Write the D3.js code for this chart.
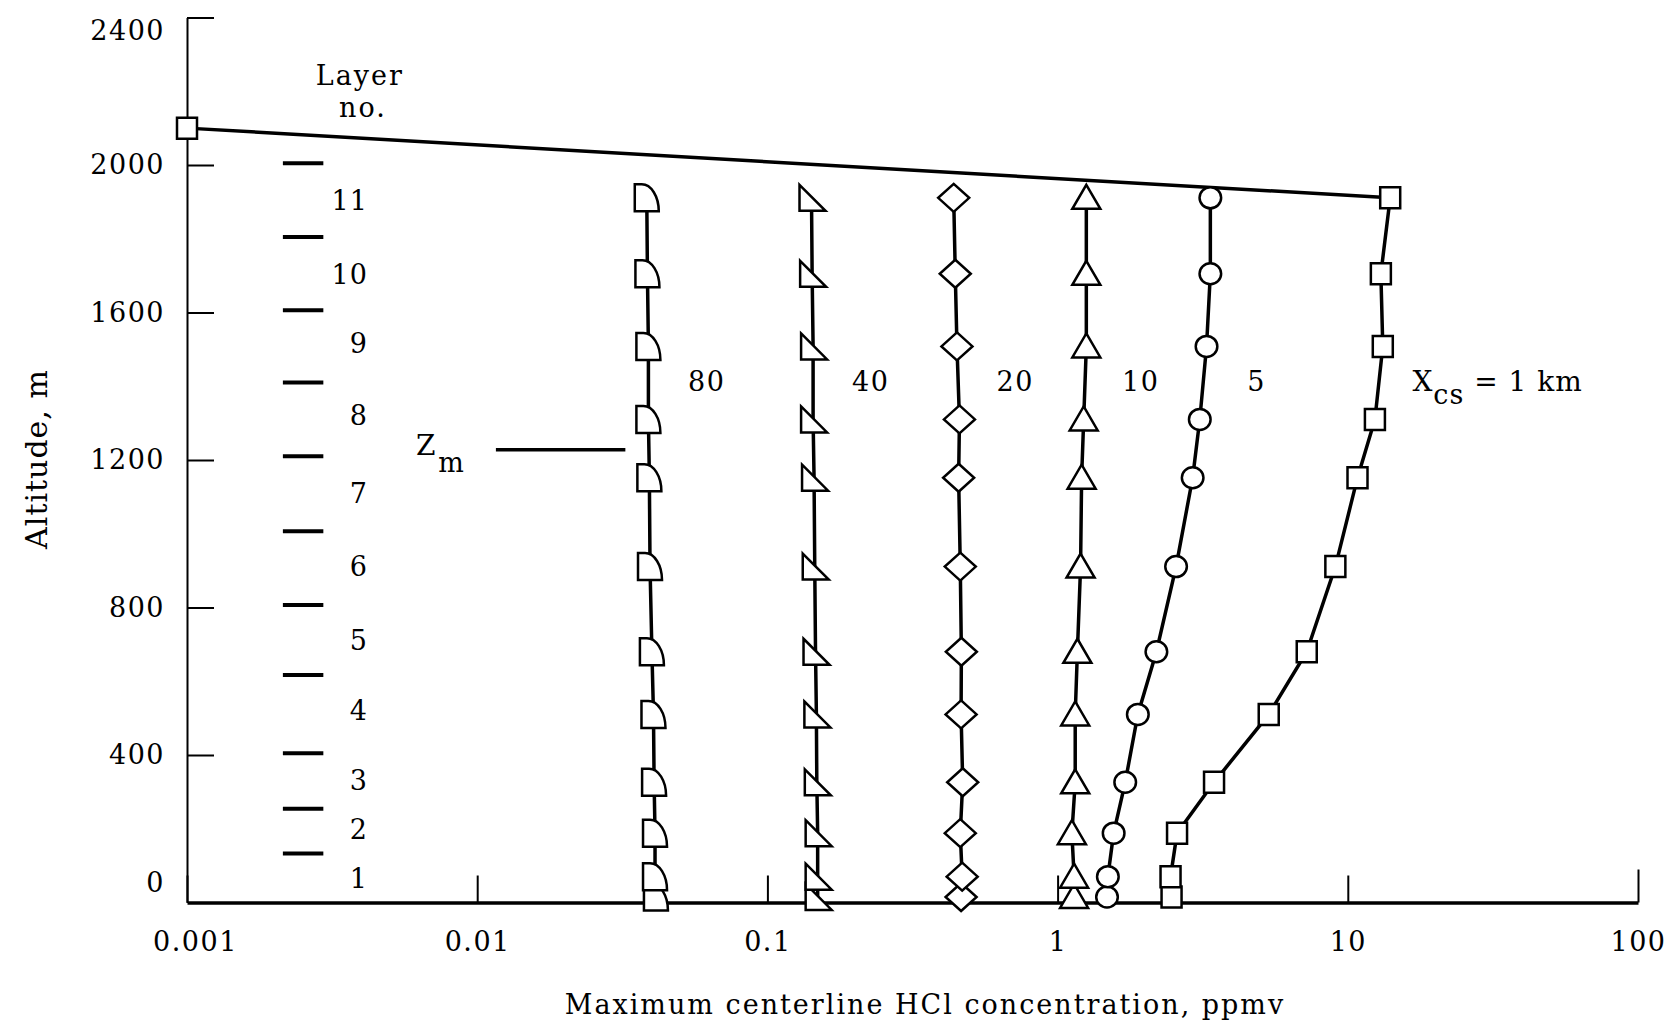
<!DOCTYPE html>
<html>
<head>
<meta charset="utf-8">
<script src="https://cdn.jsdelivr.net/npm/d3@7"></script>
<style>
  body { margin: 0; background: #fff; }
  svg text { font-family: "DejaVu Serif", serif; fill: #000; }
</style>
</head>
<body>
<div id="chart"></div>
<script>
// altitudes of the plotted points, m (same for every distance)
const altitudes = [15, 70, 188, 326, 510, 680, 911, 1152, 1310, 1508, 1705, 1911];

// max centerline HCl concentration (ppmv) per downwind distance
const conc80 = [0.0413, 0.0410, 0.0410, 0.0407, 0.0405, 0.0400, 0.0394, 0.0392, 0.0389, 0.0389, 0.0386, 0.0384];
const conc40 = [0.149, 0.149, 0.149, 0.148, 0.1475, 0.1465, 0.1456, 0.1448, 0.1437, 0.1437, 0.1426, 0.1419];
const conc20 = [0.465, 0.469, 0.462, 0.471, 0.465, 0.466, 0.462, 0.456, 0.459, 0.450, 0.444, 0.4385];
const conc10 = [1.14, 1.14, 1.12, 1.15, 1.15, 1.17, 1.20, 1.21, 1.23, 1.256, 1.256, 1.256];
const conc5 = [1.48, 1.49, 1.56, 1.71, 1.89, 2.19, 2.56, 2.92, 3.09, 3.26, 3.36, 3.36];
const conc1 = [2.47, 2.45, 2.58, 3.46, 5.34, 7.22, 9.06, 10.8, 12.4, 13.2, 13.0, 14.0];

const seriesNames = ["80", "40", "20", "10", "5", "1"];
const seriesMarkers = ["quarter", "rtri", "diamond", "tri", "circle", "square"];
// where the distance labels sit (concentration, altitude)
const labelConc = [0.0618, 0.227, 0.714, 1.934, 4.85, 16.7];
const labelAlt = 1414;

// top of mixing layer line
const topLineConc = [0.001, 14.0];
const topLineAlt = [2100, 1911];

// layer boundaries and layer numbers
const layerBounds = [133, 254, 405, 617, 807, 1007, 1210, 1410, 1606, 1805, 2005];
const layerLabelAlt = [64, 199, 332, 520, 710, 910, 1108, 1320, 1516, 1704, 1905];
const layerNumbers = ["1", "2", "3", "4", "5", "6", "7", "8", "9", "10", "11"];
const layerMarkConc = [0.00214, 0.00295];
const layerLabelConc = 0.0042;

// Z_m indicator
const zmAlt = 1228;
const zmConc = [0.0116, 0.0324];

const xTicks = [0.001, 0.01, 0.1, 1, 10, 100];
const yTicks = [0, 400, 800, 1200, 1600, 2000, 2400];

const width = 1669, height = 1032;

const svg = d3.select("#chart").append("svg")
    .attr("width", width)
    .attr("height", height);

svg.append("rect").attr("width", width).attr("height", height).attr("fill", "#fff");

const x = d3.scaleLog().domain([0.001, 100]).range([187, 1638]);
const y = d3.scaleLinear().domain([0, 2400]).range([902.5, 17.5]);

// axes
const gx = svg.append("g")
    .attr("transform", `translate(0, ${y(0)})`)
    .call(d3.axisBottom(x).tickValues(xTicks).tickFormat(d3.format("~g"))
        .tickSizeInner(-27).tickSizeOuter(0).tickPadding(29));
gx.select(".domain").attr("stroke-width", 3.5);
gx.selectAll(".tick line").attr("stroke-width", 2);
gx.selectAll(".tick").filter(d => d === 100).select("line").attr("y2", -33);
gx.selectAll(".tick").filter(d => d === 0.001).select("text").attr("dx", 8);

const gy = svg.append("g")
    .attr("transform", `translate(${x(0.001)}, 0)`)
    .call(d3.axisLeft(y).tickValues(yTicks).tickFormat(d3.format("d"))
        .tickSizeInner(-27).tickSizeOuter(0).tickPadding(22));
gy.select(".domain").attr("stroke-width", 2);
gy.selectAll(".tick line").attr("stroke-width", 2);
gy.selectAll(".tick").filter(d => d === 0).select("line").remove();
gy.selectAll(".tick").filter(d => d === 0).select("text").attr("dy", "-0.4em");
gy.selectAll(".tick").filter(d => d === 2400).select("text").attr("dy", "0.8em");

gx.attr("font-family", null).attr("font-size", null);
gy.attr("font-family", null).attr("font-size", null);
svg.selectAll(".tick text")
    .style("font-size", "27px")
    .style("letter-spacing", "1.5px");

// axis titles
svg.append("text")
    .attr("x", 925).attr("y", 1004)
    .attr("text-anchor", "middle").attr("dominant-baseline", "central")
    .style("font-size", "27px").style("letter-spacing", "2px")
    .text("Maximum centerline HCl concentration, ppmv");

svg.append("text")
    .attr("transform", "translate(36, 459) rotate(-90)")
    .attr("text-anchor", "middle").attr("dominant-baseline", "central")
    .style("font-size", "30px").style("letter-spacing", "1px")
    .text("Altitude, m");

// layer marks and numbers
svg.selectAll(".layer-mark")
    .data(layerBounds)
    .enter().append("line")
    .attr("class", "layer-mark")
    .attr("x1", x(layerMarkConc[0])).attr("x2", x(layerMarkConc[1]))
    .attr("y1", d => y(d)).attr("y2", d => y(d))
    .attr("stroke", "#000").attr("stroke-width", 4);

svg.selectAll(".layer-num")
    .data(layerNumbers)
    .enter().append("text")
    .attr("class", "layer-num")
    .attr("x", x(layerLabelConc))
    .attr("y", (d, i) => y(layerLabelAlt[i]))
    .attr("text-anchor", "end").attr("dominant-baseline", "central")
    .style("font-size", "27px").style("letter-spacing", "1px")
    .text(d => d);

svg.append("text")
    .attr("x", x(0.00394)).attr("y", y(2218))
    .attr("text-anchor", "middle")
    .style("font-size", "27px").style("letter-spacing", "2px")
    .text("Layer");
svg.append("text")
    .attr("x", x(0.00404)).attr("y", y(2131))
    .attr("text-anchor", "middle")
    .style("font-size", "27px").style("letter-spacing", "2px")
    .text("no.");

// Z_m indicator
svg.append("line")
    .attr("x1", x(zmConc[0])).attr("x2", x(zmConc[1]))
    .attr("y1", y(zmAlt)).attr("y2", y(zmAlt))
    .attr("stroke", "#000").attr("stroke-width", 3.5);

const zm = svg.append("text")
    .attr("x", x(zmConc[0]) - 80).attr("y", y(zmAlt) + 5)
    .style("font-size", "28px");
zm.append("tspan").text("Z");
zm.append("tspan").attr("dx", 3).attr("dy", 17).style("font-size", "27px").text("m");

// series
const allConc = [conc80, conc40, conc20, conc10, conc5, conc1];
const series = seriesNames.map((name, i) => ({
    name: name,
    marker: seriesMarkers[i],
    points: altitudes.map((a, j) => ({ alt: a, conc: allConc[i][j] }))
}));

const line = d3.line().x(d => x(d.conc)).y(d => y(d.alt));

// top line
svg.append("path")
    .datum(topLineConc.map((c, i) => ({ conc: c, alt: topLineAlt[i] })))
    .attr("d", line)
    .attr("fill", "none").attr("stroke", "#000").attr("stroke-width", 3.5);

svg.selectAll(".series-line")
    .data(series)
    .enter().append("path")
    .attr("class", "series-line")
    .attr("d", d => line(d.points))
    .attr("fill", "none").attr("stroke", "#000").attr("stroke-width", 3.5);

function markerPath(kind) {
    switch (kind) {
        case "quarter": return "M-12,-13.5 L-5,-13.5 A17,27 0 0 1 12,13.5 L-12,13.5 Z";
        case "rtri": return "M-12,-13 L14,13 L-12,13 Z";
        case "diamond": return "M0,-14 L15.5,0 L0,14 L-15.5,0 Z";
        case "tri": return "M0,-13 L14,11 L-14,11 Z";
        case "circle": return "M-10.8,0 A10.8,10.5 0 1 0 10.8,0 A10.8,10.5 0 1 0 -10.8,0 Z";
        case "square": return "M-10,-10.5 L10,-10.5 L10,10.5 L-10,10.5 Z";
    }
}

const markerData = series.flatMap(s => s.points.map(p => ({ ...p, marker: s.marker })));
markerData.push({ conc: topLineConc[0], alt: topLineAlt[0], marker: "square" });

svg.selectAll(".marker")
    .data(markerData)
    .enter().append("path")
    .attr("class", "marker")
    .attr("transform", d => `translate(${x(d.conc)}, ${y(d.alt)})`)
    .attr("d", d => markerPath(d.marker))
    .attr("fill", "#fff").attr("stroke", "#000").attr("stroke-width", 2.5);

// distance labels
svg.selectAll(".dist-label")
    .data(seriesNames.slice(0, 5))
    .enter().append("text")
    .attr("class", "dist-label")
    .attr("x", (d, i) => x(labelConc[i]))
    .attr("y", y(labelAlt))
    .attr("text-anchor", "middle").attr("dominant-baseline", "central")
    .style("font-size", "27px").style("letter-spacing", "1.5px")
    .text(d => d);

const xcs = svg.append("text")
    .attr("x", x(labelConc[5])).attr("y", y(labelAlt) + 10)
    .style("font-size", "28px").style("letter-spacing", "1px");
xcs.append("tspan").text("X");
xcs.append("tspan").attr("dy", 13).style("font-size", "27px").text("cs");
xcs.append("tspan").attr("dy", -13).text(" = " + seriesNames[5] + " km");
</script>
</body>
</html>
